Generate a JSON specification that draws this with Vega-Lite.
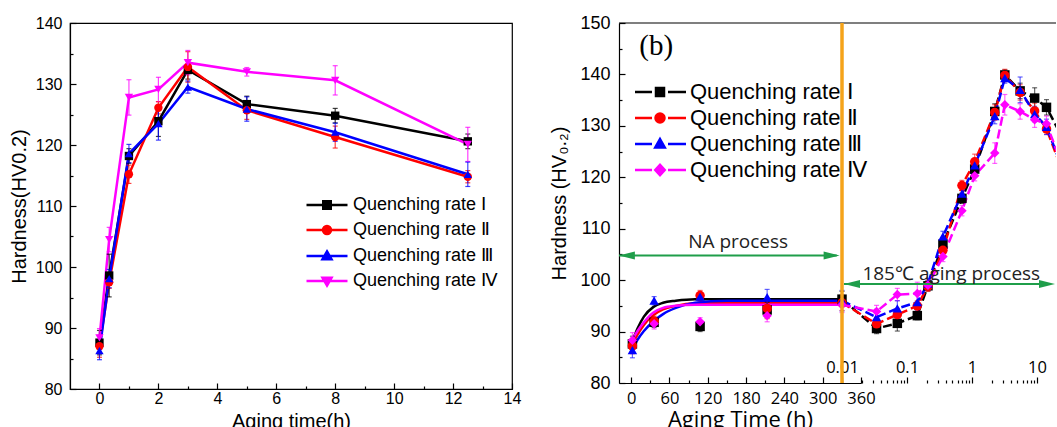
{
"$schema":"https://vega.github.io/schema/vega-lite/v6.json",
"padding":{"left":8,"top":14,"right":0,"bottom":0},
"spacing":27,
"config":{
 "view":{"stroke":"#000","strokeWidth":1.2},
 "axis":{"grid":false,"domainColor":"#000","domainWidth":1.2,"tickColor":"#000","tickWidth":1.2,"labelColor":"#000","titleColor":"#000","titleFontWeight":"normal","labelFont":"Liberation Sans","titleFont":"Liberation Sans","labelFlush":false,"labelOverlap":false},
 "legend":{"labelColor":"#000","labelFont":"Liberation Sans","symbolOpacity":1,"labelLimit":400}
},
"datasets":{
 "a":[
  {"s":"Ⅰ","t":0,"hv":87.6,"e":2.0},{"s":"Ⅰ","t":0.33,"hv":98.6,"e":3.5},{"s":"Ⅰ","t":1,"hv":118.2,"e":1.2},{"s":"Ⅰ","t":2,"hv":123.9,"e":2.5},{"s":"Ⅰ","t":3,"hv":132.3,"e":1.5},{"s":"Ⅰ","t":5,"hv":126.7,"e":1.3},{"s":"Ⅰ","t":8,"hv":124.8,"e":1.2},{"s":"Ⅰ","t":12.5,"hv":120.6,"e":1.2},
  {"s":"Ⅱ","t":0,"hv":87.0,"e":1.8},{"s":"Ⅱ","t":0.33,"hv":97.5,"e":1.0},{"s":"Ⅱ","t":1,"hv":115.2,"e":1.5},{"s":"Ⅱ","t":2,"hv":126.1,"e":1.0},{"s":"Ⅱ","t":3,"hv":132.8,"e":2.5},{"s":"Ⅱ","t":5,"hv":125.7,"e":1.5},{"s":"Ⅱ","t":8,"hv":121.3,"e":1.8},{"s":"Ⅱ","t":12.5,"hv":114.8,"e":1.0},
  {"s":"Ⅲ","t":0,"hv":86.3,"e":1.5},{"s":"Ⅲ","t":0.33,"hv":98.1,"e":1.5},{"s":"Ⅲ","t":1,"hv":118.6,"e":1.5},{"s":"Ⅲ","t":2,"hv":123.5,"e":2.7},{"s":"Ⅲ","t":3,"hv":129.5,"e":1.0},{"s":"Ⅲ","t":5,"hv":125.9,"e":2.0},{"s":"Ⅲ","t":8,"hv":122.1,"e":1.5},{"s":"Ⅲ","t":12.5,"hv":115.2,"e":2.0},
  {"s":"Ⅳ","t":0,"hv":88.4,"e":1.5},{"s":"Ⅳ","t":0.33,"hv":104.5,"e":2.0},{"s":"Ⅳ","t":1,"hv":127.8,"e":2.9},{"s":"Ⅳ","t":2,"hv":129.1,"e":2.0},{"s":"Ⅳ","t":3,"hv":133.5,"e":2.0},{"s":"Ⅳ","t":5,"hv":132.0,"e":0.7},{"s":"Ⅳ","t":8,"hv":130.6,"e":2.4},{"s":"Ⅳ","t":12.5,"hv":120.1,"e":2.8}
 ],
 "bna":[
  {"s":"Ⅰ","t":2,"hv":87.6,"e":1.5},{"s":"Ⅰ","t":36,"hv":91.8,"e":1.0},{"s":"Ⅰ","t":108,"hv":91.0,"e":1.0},{"s":"Ⅰ","t":213,"hv":94.2,"e":1.5},
  {"s":"Ⅱ","t":2,"hv":87.2,"e":1.5},{"s":"Ⅱ","t":36,"hv":92.0,"e":1.0},{"s":"Ⅱ","t":108,"hv":97.0,"e":1.0},{"s":"Ⅱ","t":213,"hv":94.5,"e":2.0},
  {"s":"Ⅲ","t":2,"hv":86.4,"e":1.5},{"s":"Ⅲ","t":36,"hv":96.0,"e":0.8},{"s":"Ⅲ","t":108,"hv":96.8,"e":0.8},{"s":"Ⅲ","t":213,"hv":96.7,"e":1.5},
  {"s":"Ⅳ","t":2,"hv":88.3,"e":1.5},{"s":"Ⅳ","t":36,"hv":91.5,"e":1.0},{"s":"Ⅳ","t":108,"hv":91.9,"e":0.8},{"s":"Ⅳ","t":213,"hv":93.1,"e":1.2}
 ],
 "bfit":[
  {"s":"Ⅰ","t":0,"hv":87.5},{"s":"Ⅰ","t":10,"hv":90.6},{"s":"Ⅰ","t":20,"hv":92.9},{"s":"Ⅰ","t":35,"hv":94.8},{"s":"Ⅰ","t":50,"hv":95.6},{"s":"Ⅰ","t":70,"hv":96.0},{"s":"Ⅰ","t":100,"hv":96.3},{"s":"Ⅰ","t":150,"hv":96.3},{"s":"Ⅰ","t":332,"hv":96.3},
  {"s":"Ⅱ","t":0,"hv":87.0},{"s":"Ⅱ","t":10,"hv":89.4},{"s":"Ⅱ","t":20,"hv":91.3},{"s":"Ⅱ","t":35,"hv":93.2},{"s":"Ⅱ","t":50,"hv":94.3},{"s":"Ⅱ","t":70,"hv":95.0},{"s":"Ⅱ","t":100,"hv":95.5},{"s":"Ⅱ","t":150,"hv":95.6},{"s":"Ⅱ","t":332,"hv":95.6},
  {"s":"Ⅲ","t":0,"hv":86.3},{"s":"Ⅲ","t":10,"hv":88.4},{"s":"Ⅲ","t":20,"hv":90.1},{"s":"Ⅲ","t":35,"hv":92.0},{"s":"Ⅲ","t":50,"hv":93.4},{"s":"Ⅲ","t":70,"hv":94.6},{"s":"Ⅲ","t":100,"hv":95.6},{"s":"Ⅲ","t":150,"hv":96.0},{"s":"Ⅲ","t":332,"hv":96.0},
  {"s":"Ⅳ","t":0,"hv":88.0},{"s":"Ⅳ","t":10,"hv":90.1},{"s":"Ⅳ","t":20,"hv":91.8},{"s":"Ⅳ","t":35,"hv":93.7},{"s":"Ⅳ","t":50,"hv":94.6},{"s":"Ⅳ","t":70,"hv":95.0},{"s":"Ⅳ","t":100,"hv":95.2},{"s":"Ⅳ","t":150,"hv":95.2},{"s":"Ⅳ","t":332,"hv":95.2}
 ],
 "blog":[
  {"s":"Ⅰ","t":0.01,"hv":96.3,"e":1.5},{"s":"Ⅰ","t":0.034,"hv":90.6,"e":1.0},{"s":"Ⅰ","t":0.071,"hv":91.6,"e":1.5},{"s":"Ⅰ","t":0.144,"hv":93.1,"e":0.8},{"s":"Ⅰ","t":0.21,"hv":98.9,"e":1.0},{"s":"Ⅰ","t":0.357,"hv":107.0,"e":1.0},{"s":"Ⅰ","t":0.7,"hv":115.9,"e":1.0},{"s":"Ⅰ","t":1.1,"hv":121.6,"e":1.0},{"s":"Ⅰ","t":2.24,"hv":132.8,"e":1.5},{"s":"Ⅰ","t":3.2,"hv":139.9,"e":1.0},{"s":"Ⅰ","t":5.5,"hv":136.8,"e":1.5},{"s":"Ⅰ","t":9.2,"hv":135.4,"e":2.0},{"s":"Ⅰ","t":14,"hv":133.6,"e":1.5},{"s":"Ⅰ","t":25,"hv":127.5,"e":1.0},
  {"s":"Ⅱ","t":0.01,"hv":95.6,"e":1.5},{"s":"Ⅱ","t":0.034,"hv":91.5,"e":1.2},{"s":"Ⅱ","t":0.071,"hv":93.3,"e":1.2},{"s":"Ⅱ","t":0.144,"hv":95.0,"e":1.0},{"s":"Ⅱ","t":0.21,"hv":98.8,"e":1.0},{"s":"Ⅱ","t":0.357,"hv":105.8,"e":1.0},{"s":"Ⅱ","t":0.7,"hv":118.4,"e":1.0},{"s":"Ⅱ","t":1.1,"hv":123.0,"e":1.5},{"s":"Ⅱ","t":2.24,"hv":132.6,"e":1.5},{"s":"Ⅱ","t":3.2,"hv":139.8,"e":1.2},{"s":"Ⅱ","t":5.5,"hv":136.5,"e":1.5},{"s":"Ⅱ","t":9.2,"hv":132.9,"e":1.5},{"s":"Ⅱ","t":14,"hv":129.4,"e":1.0},{"s":"Ⅱ","t":25,"hv":121.0,"e":1.0},
  {"s":"Ⅲ","t":0.01,"hv":96.0,"e":2.0},{"s":"Ⅲ","t":0.034,"hv":92.8,"e":1.5},{"s":"Ⅲ","t":0.071,"hv":94.5,"e":1.5},{"s":"Ⅲ","t":0.144,"hv":95.7,"e":1.5},{"s":"Ⅲ","t":0.21,"hv":99.3,"e":1.0},{"s":"Ⅲ","t":0.357,"hv":108.5,"e":1.0},{"s":"Ⅲ","t":0.7,"hv":116.8,"e":1.0},{"s":"Ⅲ","t":1.1,"hv":122.3,"e":1.0},{"s":"Ⅲ","t":2.24,"hv":131.9,"e":1.5},{"s":"Ⅲ","t":3.2,"hv":139.3,"e":1.0},{"s":"Ⅲ","t":5.5,"hv":137.0,"e":2.5},{"s":"Ⅲ","t":9.2,"hv":132.3,"e":1.5},{"s":"Ⅲ","t":14,"hv":129.8,"e":1.5},{"s":"Ⅲ","t":25,"hv":121.5,"e":1.0},
  {"s":"Ⅳ","t":0.01,"hv":95.2,"e":1.5},{"s":"Ⅳ","t":0.034,"hv":93.9,"e":1.2},{"s":"Ⅳ","t":0.071,"hv":97.2,"e":1.2},{"s":"Ⅳ","t":0.144,"hv":97.4,"e":2.2},{"s":"Ⅳ","t":0.21,"hv":99.0,"e":1.0},{"s":"Ⅳ","t":0.357,"hv":104.6,"e":1.0},{"s":"Ⅳ","t":0.7,"hv":113.5,"e":1.0},{"s":"Ⅳ","t":1.1,"hv":120.3,"e":1.0},{"s":"Ⅳ","t":2.24,"hv":124.7,"e":2.0},{"s":"Ⅳ","t":3.2,"hv":134.1,"e":2.0},{"s":"Ⅳ","t":5.5,"hv":132.8,"e":1.5},{"s":"Ⅳ","t":9.2,"hv":131.2,"e":1.5},{"s":"Ⅳ","t":14,"hv":130.4,"e":1.5},{"s":"Ⅳ","t":25,"hv":122.0,"e":1.0}
 ]
},
"resolve":{"scale":{"color":"independent","shape":"independent","stroke":"independent"}},
"hconcat":[
 {
  "width":442,"height":366,
  "resolve":{"scale":{"color":"independent","shape":"independent","stroke":"independent"}},
  "layer":[
   {
    "data":{"name":"a"},
    "resolve":{"axis":{"x":"independent","y":"independent"}},
    "encoding":{
     "x":{"field":"t","type":"quantitative","scale":{"domain":[-1,14]},"axis":null},
     "y":{"field":"hv","type":"quantitative","scale":{"domain":[80,140]},"axis":null},
     "color":{"field":"s","type":"nominal","scale":{"domain":["Ⅰ","Ⅱ","Ⅲ","Ⅳ"],"range":["#000000","#ff0000","#0000ff","#ff00ff"]},"legend":null}
    },
    "layer":[
     {"mark":{"type":"line","strokeWidth":2.5},
      "encoding":{
       "x":{"field":"t","type":"quantitative","scale":{"domain":[-1,14]},"axis":{"orient":"bottom","values":[0,2,4,6,8,10,12,14],"tickSize":-6,"labelPadding":7,"labelFontSize":16,"title":"Aging time(h)","titleFontSize":20,"titlePadding":5}},
       "y":{"field":"hv","type":"quantitative","scale":{"domain":[80,140]},"axis":{"orient":"left","values":[80,90,100,110,120,130,140],"tickSize":-6,"labelPadding":14,"labelFontSize":16,"title":"Hardness(HV0.2)","titleFontSize":20,"titlePadding":6}}
      }},
     {"mark":{"type":"errorbar","ticks":true,"thickness":1.2,"opacity":0.75},"encoding":{"yError":{"field":"e"}}},
     {"mark":{"type":"point","filled":true,"opacity":1,"size":70},
      "encoding":{"shape":{"field":"s","type":"nominal","scale":{"domain":["Ⅰ","Ⅱ","Ⅲ","Ⅳ"],"range":["square","circle","triangle-up","triangle-down"]},"legend":null}}},
     {"data":{"values":[{}]},"mark":{"type":"text","font":"Liberation Serif","fontSize":28},
      "encoding":{
       "x":{"datum":0.135,"type":"quantitative","scale":{"domain":[-1,14]},"axis":{"orient":"bottom","values":[1,3,5,7,9,11,13],"tickSize":-3,"labels":false,"domain":false,"title":null}},
       "y":{"datum":135.95,"type":"quantitative","scale":{"domain":[80,140]},"axis":{"orient":"left","values":[85,95,105,115,125,135],"tickSize":-3,"labels":false,"domain":false,"title":null}},
       "text":{"value":"(a)"},"color":{"value":"#000"}}}
    ]
   },
   {
    "data":{"name":"a"},
    "transform":[{"filter":"datum.hv < 0"}],
    "mark":{"type":"point","filled":true,"opacity":1},
    "encoding":{
     "color":{"field":"s","type":"nominal","scale":{"domain":["Ⅰ","Ⅱ","Ⅲ","Ⅳ"],"range":["#000000","#ff0000","#0000ff","#ff00ff"]},
      "legend":{"title":null,"orient":"none","legendX":248,"legendY":173,"symbolSize":100,"symbolStrokeWidth":2.5,"labelFontSize":18,"labelOffset":17,"rowPadding":7,"labelExpr":"'Quenching rate ' + datum.label"}},
     "stroke":{"field":"s","type":"nominal","scale":{"domain":["Ⅰ","Ⅱ","Ⅲ","Ⅳ"],"range":["#000000","#ff0000","#0000ff","#ff00ff"]},
      "legend":{"title":null,"orient":"none","legendX":248,"legendY":173,"symbolSize":100,"symbolStrokeWidth":2.5,"labelFontSize":18,"labelOffset":17,"rowPadding":7,"labelExpr":"'Quenching rate ' + datum.label"}},
     "shape":{"field":"s","type":"nominal","scale":{"domain":["Ⅰ","Ⅱ","Ⅲ","Ⅳ"],"range":[
       "M-4.1,0H4.1M-0.75,-0.75H0.75V0.75H-0.75Z",
       "M-4.1,0H4.1M-0.8,0A0.8,0.8,0,1,0,0.8,0A0.8,0.8,0,1,0,-0.8,0Z",
       "M-4.1,0H4.1M0,-0.9L0.9,0.65H-0.9Z",
       "M-4.1,0H4.1M0,0.9L0.9,-0.65H-0.9Z"]},
      "legend":{"title":null,"orient":"none","legendX":248,"legendY":173,"symbolSize":100,"symbolStrokeWidth":2.5,"labelFontSize":18,"labelOffset":17,"rowPadding":7,"labelExpr":"'Quenching rate ' + datum.label"}}
    }
   }
  ]
 },
 {
  "width":437,"height":360,
  "view":{"stroke":null},
  "resolve":{"scale":{"x":"independent","color":"independent","shape":"independent","stroke":"independent"}},
  "layer":[
   {
    "resolve":{"axis":{"x":"independent","y":"independent"}},
    "layer":[
     {"data":{"name":"bfit"},"mark":{"type":"line","strokeWidth":2.5,"interpolate":"monotone"},
      "encoding":{
       "x":{"field":"t","type":"quantitative","scale":{"domain":[-19,360],"range":[0,242]},"axis":{"orient":"bottom","values":[0,60,120,180,240,300,360],"tickSize":-6,"labelPadding":13,"labelFont":"Open Sans","labelFontSize":16.5,"title":"Aging Time (h)","titleFont":"Open Sans","titleFontSize":22,"titlePadding":3}},
       "y":{"field":"hv","type":"quantitative","scale":{"domain":[80,150]},"axis":{"orient":"left","values":[80,90,100,110,120,130,140,150],"tickSize":-6,"labelPadding":15,"labelFontSize":18,"title":"Hardness (HV₀.₂)","titleFontSize":20,"titlePadding":10}},
       "color":{"field":"s","type":"nominal","scale":{"domain":["Ⅰ","Ⅱ","Ⅲ","Ⅳ"],"range":["#000000","#ff0000","#0000ff","#ff00ff"]},"legend":null}}},
     {"data":{"name":"bna"},"mark":{"type":"errorbar","ticks":true,"thickness":1.2,"opacity":0.6},
      "encoding":{
       "x":{"field":"t","type":"quantitative","scale":{"domain":[-19,360],"range":[0,242]},"axis":null},
       "y":{"field":"hv","type":"quantitative","scale":{"domain":[80,150]},"axis":null},
       "yError":{"field":"e"},
       "color":{"field":"s","type":"nominal","scale":{"domain":["Ⅰ","Ⅱ","Ⅲ","Ⅳ"],"range":["#000000","#ff0000","#0000ff","#ff00ff"]},"legend":null}}},
     {"data":{"name":"bna"},"mark":{"type":"point","filled":true,"opacity":1,"size":90},
      "encoding":{
       "x":{"field":"t","type":"quantitative","scale":{"domain":[-19,360],"range":[0,242]},"axis":null},
       "y":{"field":"hv","type":"quantitative","scale":{"domain":[80,150]},"axis":null},
       "color":{"field":"s","type":"nominal","scale":{"domain":["Ⅰ","Ⅱ","Ⅲ","Ⅳ"],"range":["#000000","#ff0000","#0000ff","#ff00ff"]},"legend":null},
       "shape":{"field":"s","type":"nominal","scale":{"domain":["Ⅰ","Ⅱ","Ⅲ","Ⅳ"],"range":["square","circle","triangle-up","diamond"]},"legend":null}}},
     {"data":{"values":[{}]},"mark":{"type":"rule","color":"#1f9e4a","strokeWidth":2},
      "encoding":{
       "x":{"datum":-19,"type":"quantitative","scale":{"domain":[-19,360],"range":[0,242]},"axis":null},
       "x2":{"datum":322},
       "y":{"datum":104.8,"type":"quantitative","scale":{"domain":[80,150]},"axis":null}}},
     {"data":{"values":[{}]},"mark":{"type":"point","filled":true,"opacity":1,"color":"#1f9e4a","size":256,"shape":"M-1,0L1,-0.5L1,0.5Z"},
      "encoding":{
       "x":{"datum":-6.7,"type":"quantitative","scale":{"domain":[-19,360],"range":[0,242]},"axis":null},
       "y":{"datum":104.8,"type":"quantitative","scale":{"domain":[80,150]},"axis":null}}},
     {"data":{"values":[{}]},"mark":{"type":"point","filled":true,"opacity":1,"color":"#1f9e4a","size":256,"shape":"M1,0L-1,-0.5L-1,0.5Z"},
      "encoding":{
       "x":{"datum":314,"type":"quantitative","scale":{"domain":[-19,360],"range":[0,242]},"axis":null},
       "y":{"datum":104.8,"type":"quantitative","scale":{"domain":[80,150]},"axis":null}}},
     {"data":{"values":[{}]},"mark":{"type":"text","font":"Open Sans","fontSize":19,"color":"#222"},
      "encoding":{
       "x":{"datum":167.6,"type":"quantitative","scale":{"domain":[-19,360],"range":[0,242]},"axis":{"orient":"bottom","values":[30,90,150,210,270,330],"tickSize":-3,"labels":false,"domain":false,"title":null}},
       "y":{"datum":107.5,"type":"quantitative","scale":{"domain":[80,150]},"axis":{"orient":"left","values":[85,95,105,115,125,135,145],"tickSize":-3,"labels":false,"domain":false,"title":null}},
       "text":{"value":"NA process"}}},
     {"data":{"values":[{}]},"mark":{"type":"text","font":"Liberation Serif","fontSize":29,"color":"#000"},
      "encoding":{
       "x":{"datum":39.2,"type":"quantitative","scale":{"domain":[-19,360],"range":[0,242]},"axis":null},
       "y":{"datum":145.6,"type":"quantitative","scale":{"domain":[80,150]},"axis":null},
       "text":{"value":"(b)"}}},
     {"data":{"values":[{}]},"mark":{"type":"rule","color":"#000","strokeWidth":1.2},
      "encoding":{"y":{"datum":150,"type":"quantitative","scale":{"domain":[80,150]},"axis":null}}}
    ]
   },
   {
    "resolve":{"axis":{"x":"independent"}},
    "layer":[
     {"data":{"name":"blog"},"mark":{"type":"line","strokeWidth":2.5,"strokeDash":[9,4],"clip":true},
      "encoding":{
       "x":{"field":"t","type":"quantitative","scale":{"type":"log","domain":[0.01,19.6],"range":[223,437]},"axis":{"orient":"top","offset":-360,"values":[0.01,0.1,1,10],"format":"~g","tickSize":6,"labelPadding":2,"labelFont":"Open Sans","labelFontSize":16.5,"domain":false,"title":null}},
       "y":{"field":"hv","type":"quantitative","scale":{"domain":[80,150]},"axis":null},
       "color":{"field":"s","type":"nominal","scale":{"domain":["Ⅰ","Ⅱ","Ⅲ","Ⅳ"],"range":["#000000","#ff0000","#0000ff","#ff00ff"]},"legend":null}}},
     {"data":{"name":"blog"},"transform":[{"filter":"datum.t < 19"}],"mark":{"type":"errorbar","ticks":true,"thickness":1.2,"opacity":0.6},
      "encoding":{
       "x":{"field":"t","type":"quantitative","scale":{"type":"log","domain":[0.01,19.6],"range":[223,437]},"axis":null},
       "y":{"field":"hv","type":"quantitative","scale":{"domain":[80,150]},"axis":null},
       "yError":{"field":"e"},
       "color":{"field":"s","type":"nominal","scale":{"domain":["Ⅰ","Ⅱ","Ⅲ","Ⅳ"],"range":["#000000","#ff0000","#0000ff","#ff00ff"]},"legend":null}}},
     {"data":{"name":"blog"},"transform":[{"filter":"datum.t < 19"}],"mark":{"type":"point","filled":true,"opacity":1,"size":90},
      "encoding":{
       "x":{"field":"t","type":"quantitative","scale":{"type":"log","domain":[0.01,19.6],"range":[223,437]},"axis":null},
       "y":{"field":"hv","type":"quantitative","scale":{"domain":[80,150]},"axis":null},
       "color":{"field":"s","type":"nominal","scale":{"domain":["Ⅰ","Ⅱ","Ⅲ","Ⅳ"],"range":["#000000","#ff0000","#0000ff","#ff00ff"]},"legend":null},
       "shape":{"field":"s","type":"nominal","scale":{"domain":["Ⅰ","Ⅱ","Ⅲ","Ⅳ"],"range":["square","circle","triangle-up","diamond"]},"legend":null}}},
     {"data":{"values":[{}]},"mark":{"type":"rule","color":"#1f9e4a","strokeWidth":2},
      "encoding":{
       "x":{"datum":0.0107,"type":"quantitative","scale":{"type":"log","domain":[0.01,19.6],"range":[223,437]},"axis":null},
       "x2":{"datum":14.5},
       "y":{"datum":99.25,"type":"quantitative","scale":{"domain":[80,150]},"axis":null}}},
     {"data":{"values":[{}]},"mark":{"type":"point","filled":true,"opacity":1,"color":"#1f9e4a","size":256,"shape":"M-1,0L1,-0.5L1,0.5Z"},
      "encoding":{
       "x":{"datum":0.01425,"type":"quantitative","scale":{"type":"log","domain":[0.01,19.6],"range":[223,437]},"axis":null},
       "y":{"datum":99.25,"type":"quantitative","scale":{"domain":[80,150]},"axis":null}}},
     {"data":{"values":[{}]},"mark":{"type":"point","filled":true,"opacity":1,"color":"#1f9e4a","size":256,"shape":"M1,0L-1,-0.5L-1,0.5Z"},
      "encoding":{
       "x":{"datum":14.25,"type":"quantitative","scale":{"type":"log","domain":[0.01,19.6],"range":[223,437]},"axis":null},
       "y":{"datum":99.25,"type":"quantitative","scale":{"domain":[80,150]},"axis":null}}},
     {"data":{"values":[{}]},"mark":{"type":"text","font":"Open Sans","fontSize":19,"color":"#222"},
      "encoding":{
       "x":{"datum":0.48,"type":"quantitative","scale":{"type":"log","domain":[0.01,19.6],"range":[223,437]},"axis":{"orient":"top","offset":-360,"values":[0.02,0.03,0.04,0.05,0.06,0.07,0.08,0.09,0.2,0.3,0.4,0.5,0.6,0.7,0.8,0.9,2,3,4,5,6,7,8,9],"tickSize":3,"labels":false,"domain":false,"title":null}},
       "y":{"datum":101.2,"type":"quantitative","scale":{"domain":[80,150]},"axis":null},
       "text":{"value":"185℃ aging process"}}},
     {"data":{"values":[{}]},"mark":{"type":"rule","color":"#f5a31a","strokeWidth":3.5},
      "encoding":{"x":{"datum":0.01,"type":"quantitative","scale":{"type":"log","domain":[0.01,19.6],"range":[223,437]},"axis":null}}}
    ]
   },
   {
    "data":{"name":"blog"},
    "transform":[{"filter":"datum.hv < 0"}],
    "mark":{"type":"point","filled":true,"opacity":1},
    "encoding":{
     "color":{"field":"s","type":"nominal","scale":{"domain":["Ⅰ","Ⅱ","Ⅲ","Ⅳ"],"range":["#000000","#ff0000","#0000ff","#ff00ff"]},
      "legend":{"title":null,"orient":"none","legendX":30,"legendY":58,"symbolSize":100,"symbolStrokeWidth":2.5,"labelFontSize":22,"labelOffset":19,"rowPadding":4,"labelExpr":"'Quenching rate ' + datum.label"}},
     "stroke":{"field":"s","type":"nominal","scale":{"domain":["Ⅰ","Ⅱ","Ⅲ","Ⅳ"],"range":["#000000","#ff0000","#0000ff","#ff00ff"]},
      "legend":{"title":null,"orient":"none","legendX":30,"legendY":58,"symbolSize":100,"symbolStrokeWidth":2.5,"labelFontSize":22,"labelOffset":19,"rowPadding":4,"labelExpr":"'Quenching rate ' + datum.label"}},
     "shape":{"field":"s","type":"nominal","scale":{"domain":["Ⅰ","Ⅱ","Ⅲ","Ⅳ"],"range":[
       "M-5,0H-1.6M1.6,0H5.2M-0.8,-0.8H0.8V0.8H-0.8Z",
       "M-5,0H-1.6M1.6,0H5.2M-0.9,0A0.9,0.9,0,1,0,0.9,0A0.9,0.9,0,1,0,-0.9,0Z",
       "M-5,0H-1.6M1.6,0H5.2M0,-1L0.95,0.7H-0.95Z",
       "M-5,0H-1.6M1.6,0H5.2M0,-1.05L0.95,0L0,1.05L-0.95,0Z"]},
      "legend":{"title":null,"orient":"none","legendX":30,"legendY":58,"symbolSize":100,"symbolStrokeWidth":2.5,"labelFontSize":22,"labelOffset":19,"rowPadding":4,"labelExpr":"'Quenching rate ' + datum.label"}}
    }
   }
  ]
 }
]
}
